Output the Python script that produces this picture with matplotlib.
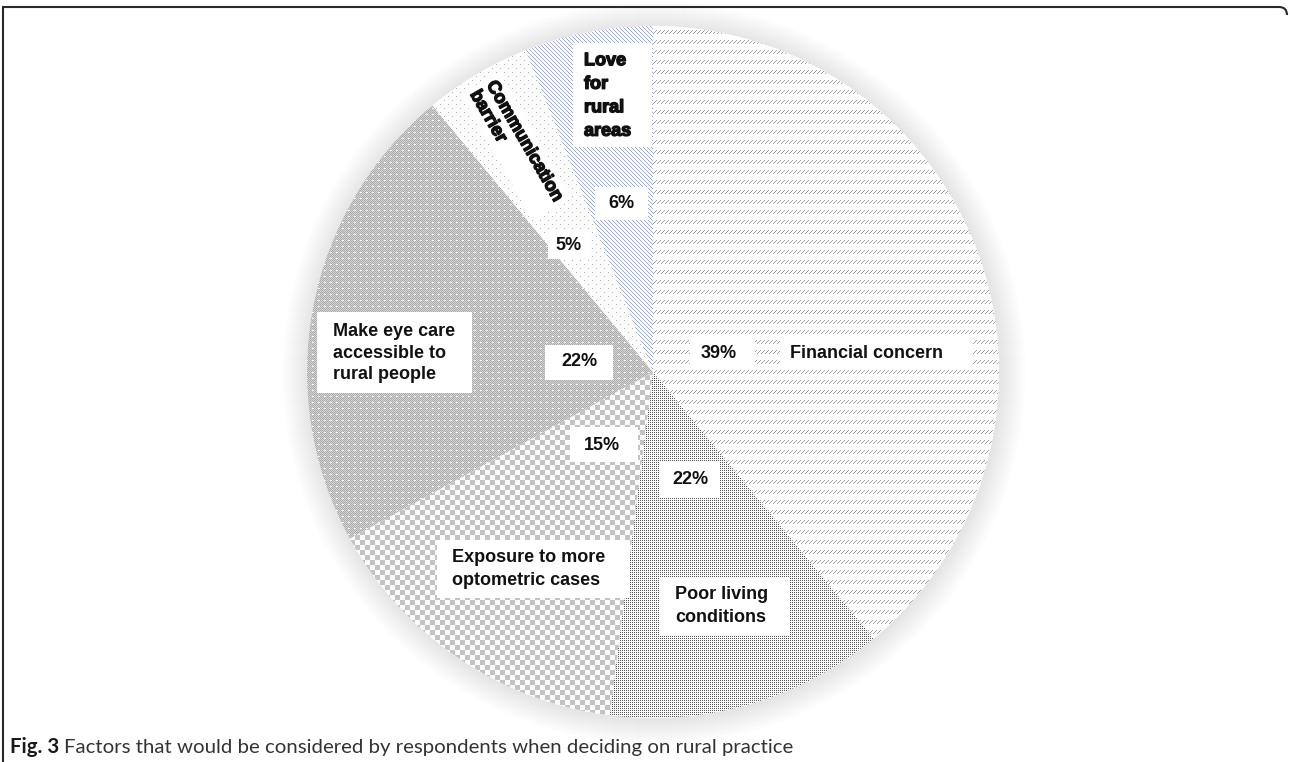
import numpy as np
import matplotlib
matplotlib.use("Agg")
import matplotlib.pyplot as plt
from matplotlib.patches import Rectangle, Circle, PathPatch
from matplotlib.path import Path
import matplotlib.patheffects as pe

# ---------------- data ----------------
categories = ["Financial concern", "Poor living\nconditions",
              "Exposure to more\noptometric cases",
              "Make eye care\naccessible to\nrural people",
              "Communication\nbarrier", "Love\nfor\nrural\nareas"]
# slice sizes as drawn in the figure (clockwise from 12 o'clock)
shares = [39, 13, 15, 22, 5, 6]
# percentage labels as printed in the figure
pct_labels = ["39%", "22%", "15%", "22%", "5%", "6%"]
caption_bold = "Fig. 3"
caption_text = "Factors that would be considered by respondents when deciding on rural practice"

# ---------------- canvas ----------------
W, H = 1290, 762
fig = plt.figure(figsize=(W / 100, H / 100), dpi=100)
ax = fig.add_axes([0, 0, 1, 1])

cx, cy, R = 653, 390, 346

# soft shadow around the pie
for k in range(26, 0, -1):
    ax.add_patch(Circle((cx + 1, cy - 1), R + k, facecolor=(0, 0, 0, 0.0042),
                        edgecolor="none", zorder=0))
ax.add_patch(Circle((cx, cy), R, facecolor="white", edgecolor="none", zorder=1))

wedges, _ = ax.pie(shares, startangle=90, counterclock=False,
                   center=(cx, cy), radius=R, frame=True,
                   wedgeprops=dict(facecolor="none", edgecolor="none", linewidth=0))
for w in wedges:
    w.set_zorder(2)

# ---------------- textures ----------------
x0, x1 = cx - R, cx + R
y0, y1 = cy - R, cy + R
n = 2 * R
rows = np.arange(n)[:, None] + (H - y1)
cols = np.arange(n)[None, :] + x0
rows = np.broadcast_to(rows, (n, n))
cols = np.broadcast_to(cols, (n, n))


def paint(mask, fg, bg):
    img = np.empty((n, n, 3), dtype=np.uint8)
    img[:] = bg
    img[mask] = fg
    return img


t = rows % 10
tex_fin = paint((t < 4) & ((cols + t) % 4 == 0), (160, 160, 160), (255, 255, 255))
tex_poor = paint((rows % 2 == 0) & (cols % 2 == 0), (85, 85, 85), (250, 250, 250))
tex_exp = paint(((rows // 5 + cols // 5) % 2 == 0), (195, 195, 195), (250, 250, 250))
base = paint(((rows + cols) % 2 == 0), (172, 172, 172), (212, 212, 212))
base[(rows % 6 == 0) & (cols % 6 < 2)] = (250, 250, 250)
tex_make = base
tex_comm = paint(((rows % 8 == 0) & (cols % 8 == 0)) | ((rows % 8 == 4) & (cols % 8 == 4)),
                 (175, 175, 175), (253, 253, 253))
tex_love = paint(((cols - rows) % 4 == 0), (158, 170, 200), (250, 251, 253))

textures = [tex_fin, tex_poor, tex_exp, tex_make, tex_comm, tex_love]
for w, tex in zip(wedges, textures):
    im = ax.imshow(tex, extent=(x0, x1, y0, y1), interpolation="nearest", zorder=2)
    im.set_clip_path(w)

ax.set_xlim(0, W)
ax.set_ylim(0, H)
ax.set_aspect("auto")
ax.axis("off")

# ---------------- labels ----------------
FONT = "Liberation Sans"
FS = 13


def box(xa, ya, xb, yb):
    ax.add_patch(Rectangle((xa, H - yb), xb - xa, yb - ya, facecolor="white",
                           edgecolor="none", zorder=3))


def label(txt, x, y, ha="center", heavy=False, ls=1.3, **kw):
    t = ax.text(x, H - y, txt, ha=ha, va="center", fontsize=FS, fontfamily=FONT,
                fontweight="bold", color="#111111", zorder=4, linespacing=ls, **kw)
    if heavy:
        t.set_path_effects([pe.withStroke(linewidth=1.0, foreground="#111111")])
    return t


# Financial concern
box(690, 338, 755, 368); label(pct_labels[0], 719, 354)
box(780, 338, 973, 368); label(categories[0], 866, 354)
# Poor living conditions
box(660, 462, 720, 498); label(pct_labels[1], 690, 480)
box(660, 577, 790, 635); label(categories[1], 675, 606, ha="left", ls=1.45)
# Exposure
box(570, 427, 638, 462); label(pct_labels[2], 602, 445)
box(437, 540, 630, 598); label(categories[2], 452, 569, ha="left", ls=1.45)
# Make eye care
box(545, 345, 613, 380); label(pct_labels[3], 579, 362)
box(317, 312, 472, 393); label(categories[3], 333, 353, ha="left", ls=1.36)
# Communication barrier
box(548, 231, 590, 259); label(pct_labels[4], 569, 245)
label(categories[4], 516, 146, heavy=True, rotation=-60, rotation_mode="anchor",
      multialignment="left", ls=1.15,
      bbox=dict(boxstyle="square,pad=0.25", facecolor="white", edgecolor="none"))
# Love for rural areas
box(573, 43, 652, 147); label(categories[5], 584, 96, ha="left", heavy=True, ls=1.5)
box(595, 187, 648, 220); label(pct_labels[5], 621, 204)

# ---------------- frame ----------------
r = 8
verts = [(3, 0), (3, H - 7), (1287 - r, H - 7), (1287, H - 7), (1287, H - 7 - r), (1287, H - 13)]
codes = [Path.MOVETO, Path.LINETO, Path.LINETO, Path.CURVE3, Path.CURVE3, Path.LINETO]
ax.add_patch(PathPatch(Path(verts, codes), facecolor="none", edgecolor="#2a2a2a",
                       lw=1.5, zorder=5, capstyle="butt"))

# ---------------- caption ----------------
renderer = fig.canvas.get_renderer()
CAP_FONT = "Lato"


def caption(fs):
    a = ax.text(10, 9, caption_bold, fontsize=fs, fontfamily=CAP_FONT,
                fontweight="bold", color="#1a1a1a", va="baseline", ha="left", zorder=5)
    ea = a.get_window_extent(renderer)
    b = ax.text(ea.x1 + fs * 0.35, 9, caption_text, fontsize=fs, fontfamily=CAP_FONT,
                color="#333333", va="baseline", ha="left", zorder=5)
    eb = b.get_window_extent(renderer)
    return a, b, eb.x1


a, b, end = caption(13)
fs = 13 * (792 - 10) / (end - 10)
a.remove(); b.remove()
caption(fs)

fig.savefig("out.png", dpi=100)
